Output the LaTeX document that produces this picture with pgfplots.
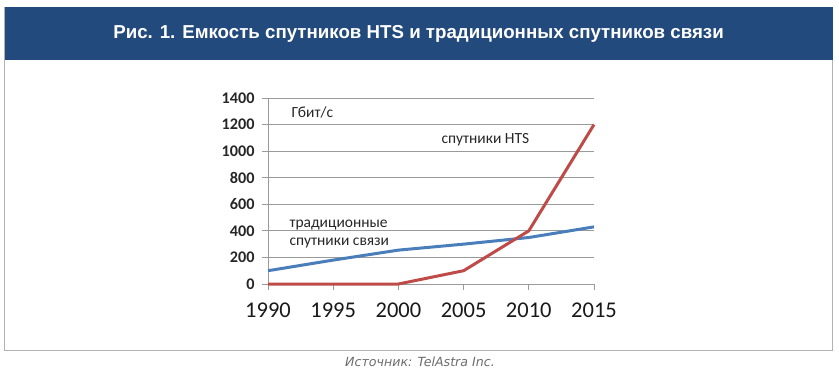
\documentclass[border=0pt]{standalone}
\usepackage{pgfplots}
\pgfplotsset{compat=1.18}
\usepackage{fontspec}
\setmainfont{Carlito}
\newfontfamily\titlefont{Liberation Sans}
\newfontfamily\srcfont{DejaVu Sans}
\definecolor{banner}{HTML}{234A7C}
\definecolor{hts}{HTML}{BE4B48}
\definecolor{trad}{HTML}{4A7EBB}
\definecolor{gridc}{HTML}{9A9A9A}
\begin{document}
\begin{tikzpicture}[x=1pt,y=1pt]
\path[use as bounding box] (0,0) rectangle (839,376);
% frame
\draw[gray!60, line width=0.8pt] (4.5,26) rectangle (832.5,368.5);
\fill[banner] (4.5,316) rectangle (832.5,368.5);
\node[text=white, font=\titlefont\bfseries\fontsize{18.7}{21}\selectfont] at (418.5,342) {Рис. 1. Емкость спутников HTS и традиционных спутников связи};
\node[text=gray!85!black, font=\srcfont\itshape\fontsize{12.6}{14}\selectfont] at (420,14) {Источник: TelAstra Inc.};
\begin{axis}[
  at={(268pt,92pt)}, anchor=south west,
  scale only axis, width=326pt, height=186pt,
  xmin=1990, xmax=2015, ymin=0, ymax=1400,
  xtick={1990,1995,2000,2005,2010,2015},
  ytick={0,200,400,600,800,1000,1200,1400},
  xticklabel style={/pgf/number format/1000 sep={}, font=\fontsize{22.5}{24}\selectfont, text=black!90},
  yticklabel style={font=\bfseries\fontsize{16.2}{18}\selectfont, text=black!85},
  /pgf/number format/assume math mode=true,
  /pgf/number format/1000 sep={},
  ymajorgrids, grid style={gridc, line width=0.8pt},
  axis line style={gridc, line width=0.8pt},
  axis x line*=bottom, axis y line*=left,
  tick style={gridc, line width=0.8pt},
  tick align=outside, major tick length=6pt,
  xtick pos=bottom, ytick pos=left,
  xticklabel shift=9pt, yticklabel shift=4pt,
  clip=false,
]
\addplot[trad, line width=3pt] coordinates {(1990,100) (1995,180) (2000,255) (2005,300) (2010,350) (2015,430)};
\addplot[hts, line width=3pt] coordinates {(1990,0) (1995,0) (2000,0) (2005,100) (2010,400) (2015,1200)};
\end{axis}
\node[anchor=west, font=\fontsize{15.5}{17}\selectfont, text=black!85] at (288,264) {Гбит/с};
\node[anchor=west, font=\fontsize{15.5}{17}\selectfont, text=black!85] at (438,236) {спутники HTS};
\node[anchor=west, font=\fontsize{15.5}{17}\selectfont, text=black!85] at (286,151) {традиционные};
\node[anchor=west, font=\fontsize{15.5}{17}\selectfont, text=black!85] at (286,133) {спутники связи};
\end{tikzpicture}
\end{document}
